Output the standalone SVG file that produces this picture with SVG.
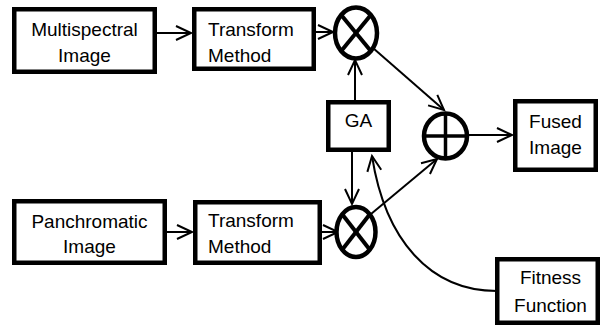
<svg xmlns="http://www.w3.org/2000/svg" width="603" height="326" viewBox="0 0 603 326">
<defs>
<style>
.box{fill:#fff;stroke:#000;stroke-width:4.5}
.t{font-family:"Liberation Sans",Arial,sans-serif;font-size:19px;fill:#000}
.c{text-anchor:middle}
.ln{fill:none;stroke:#000;stroke-width:2}
.op{fill:#fff;stroke:#000;stroke-width:4.5}
.x{stroke:#000;stroke-width:4}
.pl{stroke:#000;stroke-width:3.5}
</style>
<marker id="ah" markerUnits="userSpaceOnUse" markerWidth="20" markerHeight="20" viewBox="-17 -10 20 20" refX="0" refY="0" orient="auto">
<path d="M-15,-7 L0,0 L-15,7" fill="none" stroke="#000" stroke-width="2"/>
</marker>
</defs>
<rect width="603" height="326" fill="#fff"/>
<g id="connectors">
<path class="ln" d="M157 33 L191 33" marker-end="url(#ah)"/>
<path class="ln" d="M316 32 L333 32" marker-end="url(#ah)"/>
<path class="ln" d="M167 232 L192 232" marker-end="url(#ah)"/>
<path class="ln" d="M315 232 L338 232" marker-end="url(#ah)"/>
<path class="ln" d="M355 100 L355 60" marker-end="url(#ah)"/>
<path class="ln" d="M352 152 L352 204" marker-end="url(#ah)"/>
<path class="ln" d="M373 48 L444 110" marker-end="url(#ah)"/>
<path class="ln" d="M371 214 L437 159" marker-end="url(#ah)"/>
<path class="ln" d="M469 135 L512 135" marker-end="url(#ah)"/>
<path class="ln" d="M497 291 C430 291 385 240 372 156" marker-end="url(#ah)"/>
</g>
<g id="multispectral">
<rect class="box" x="14.25" y="9.25" width="140.5" height="62.5"/>
<text class="t c" x="84.5" y="36">Multispectral</text>
<text class="t c" x="84.5" y="62">Image</text>
</g>
<g id="transform1">
<rect class="box" x="194.25" y="9.25" width="119.5" height="59.5"/>
<text class="t" x="208" y="36">Transform</text>
<text class="t" x="208" y="62">Method</text>
</g>
<g id="panchromatic">
<rect class="box" x="14.25" y="201.25" width="150.5" height="61.5"/>
<text class="t c" x="89.5" y="228">Panchromatic</text>
<text class="t c" x="89.5" y="253">Image</text>
</g>
<g id="transform2">
<rect class="box" x="195.25" y="202.25" width="124.5" height="60.5"/>
<text class="t" x="208" y="227">Transform</text>
<text class="t" x="208" y="253">Method</text>
</g>
<g id="ga">
<rect class="box" x="328.25" y="102.25" width="60.5" height="47.5"/>
<text class="t c" x="358.5" y="127">GA</text>
</g>
<g id="fused">
<rect class="box" x="515.25" y="101.25" width="80.5" height="68.5"/>
<text class="t c" x="555.5" y="128">Fused</text>
<text class="t c" x="555.5" y="154">Image</text>
</g>
<g id="fitness">
<rect class="box" x="497.25" y="259.25" width="100.5" height="63.5"/>
<text class="t c" x="550.5" y="284">Fitness</text>
<text class="t c" x="550.5" y="312">Function</text>
</g>
<g id="mult1">
<ellipse class="op" cx="356" cy="33" rx="21" ry="25.5"/>
<line class="x" x1="341.2" y1="15" x2="370.8" y2="51"/>
<line class="x" x1="370.8" y1="15" x2="341.2" y2="51"/>
</g>
<g id="mult2">
<ellipse class="op" cx="356" cy="232" rx="19.5" ry="25"/>
<line class="x" x1="342.2" y1="214.3" x2="369.8" y2="249.7"/>
<line class="x" x1="369.8" y1="214.3" x2="342.2" y2="249.7"/>
</g>
<g id="sum">
<ellipse class="op" cx="445.5" cy="136" rx="21.5" ry="22.5"/>
<line class="pl" x1="424" y1="136" x2="467" y2="136"/>
<line class="pl" x1="445.5" y1="113.5" x2="445.5" y2="158.5"/>
</g>
</svg>
